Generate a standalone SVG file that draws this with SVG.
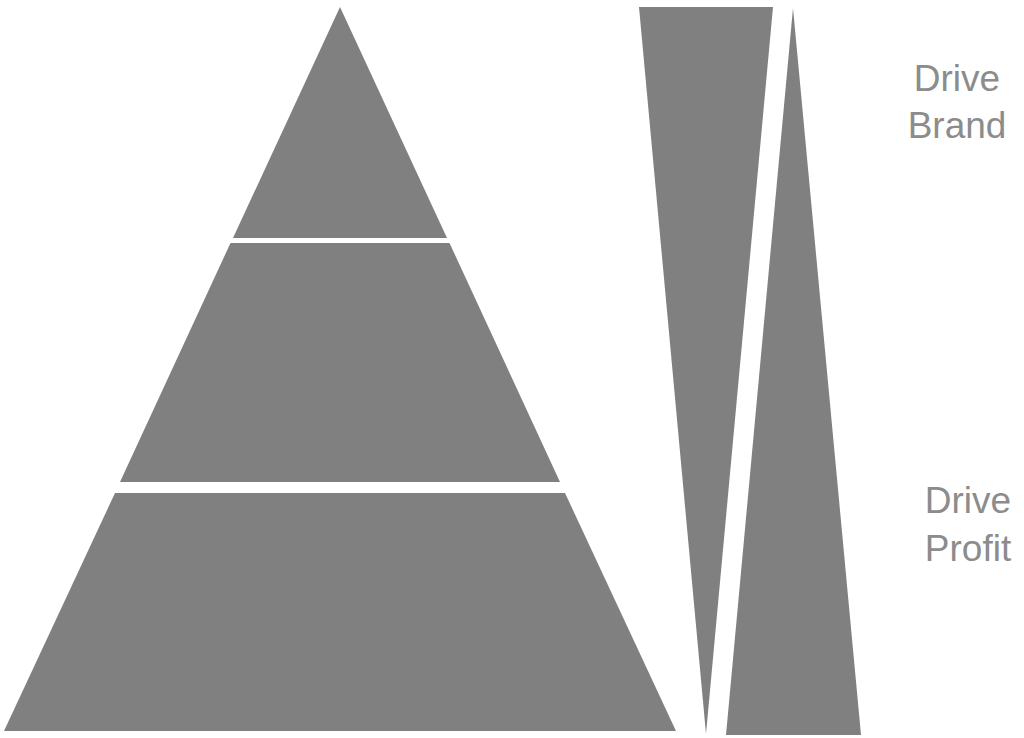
<svg xmlns="http://www.w3.org/2000/svg" width="1024" height="738" viewBox="0 0 1024 738">
<style>
.s{fill:#808080}
.t{font-family:"Liberation Sans",Arial,sans-serif;font-size:37px;fill:#8c8c8c;text-anchor:middle}
</style>
<rect width="1024" height="738" fill="#fff"/>
<g id="pyramid-top"><polygon class="s" points="340,7 447,238 233,238"/></g>
<g id="pyramid-middle"><polygon class="s" points="230.5,243 449.5,243 560,482 120,482"/></g>
<g id="pyramid-bottom"><polygon class="s" points="115,493 565,493 676,731 4,731"/></g>
<g id="wedge-brand"><polygon class="s" points="639,7 773,7 706,734"/></g>
<g id="wedge-profit"><polygon class="s" points="793,8 861,735 726,735"/></g>
<g id="label-brand"><text class="t" x="957" y="91">Drive</text><text class="t" x="957" y="138">Brand</text></g>
<g id="label-profit"><text class="t" x="968" y="513">Drive</text><text class="t" x="968" y="561">Profit</text></g>
<g id="connectors"/>
</svg>
